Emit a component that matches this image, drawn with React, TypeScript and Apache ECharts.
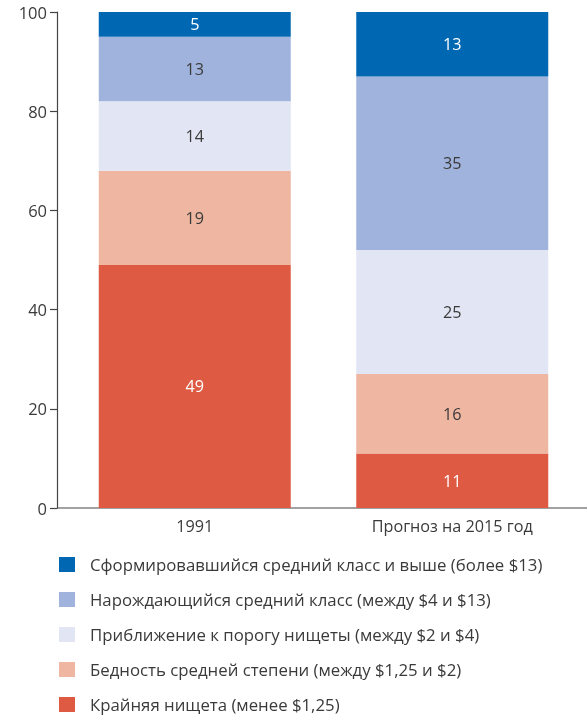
import React, { useEffect, useRef } from "react";
import * as echarts from "echarts";

const categories = ["1991", "Прогноз на 2015 год"];
const seriesNames = [
  "Крайняя нищета (менее $1,25)",
  "Бедность средней степени (между $1,25 и $2)",
  "Приближение к порогу нищеты (между $2 и $4)",
  "Нарождающийся средний класс (между $4 и $13)",
  "Сформировавшийся средний класс и выше (более $13)",
];
const extremePoverty = [49, 11];
const moderatePoverty = [19, 16];
const nearPoverty = [14, 25];
const emergingMiddle = [13, 35];
const establishedMiddle = [5, 13];
const yTicks = { min: 0, max: 100, interval: 20 };

const colors = ["#de5a43", "#efb6a2", "#e2e6f4", "#a0b3dc", "#0068b2"];
const labelColors = ["#ffffff", "#3a3a3a", "#3a3a3a", "#3a3a3a", "#ffffff"];

export default function App() {
  const ref = useRef<HTMLDivElement>(null);
  useEffect(() => {
    if (!ref.current) return;
    const chart = echarts.init(ref.current, undefined, { renderer: "svg" });
    const values = [extremePoverty, moderatePoverty, nearPoverty, emergingMiddle, establishedMiddle];
    const font = "'Open Sans', sans-serif";
    chart.setOption({
      animation: false,
      textStyle: { fontFamily: font },
      grid: { left: 66, right: 6, top: 12, bottom: 210 },
      legend: {
        orient: "vertical",
        left: 59,
        top: 556,
        height: 200,
        padding: 0,
        icon: "rect",
        itemWidth: 16,
        itemHeight: 15,
        itemGap: 18,
        data: [...seriesNames].reverse(),
        textStyle: {
          fontSize: 16.8,
          lineHeight: 16,
          color: "#3a3a3a",
          fontFamily: font,
          padding: [0, 0, 0, 10],
        },
        selectedMode: false,
      },
      xAxis: {
        type: "category",
        data: categories,
        axisLine: { show: false },
        axisTick: { show: false },
        axisLabel: { fontSize: 16.2, color: "#3a3a3a", margin: 10, fontFamily: font },
      },
      yAxis: {
        type: "value",
        min: yTicks.min,
        max: yTicks.max,
        interval: yTicks.interval,
        offset: 9,
        splitLine: { show: false },
        axisLine: { show: true, lineStyle: { color: "#444", width: 1.2 } },
        axisTick: { show: true, length: 7, lineStyle: { color: "#444", width: 1.2 } },
        axisLabel: { fontSize: 16.5, color: "#3a3a3a", margin: 10, fontFamily: font },
      },
      graphic: [
        {
          type: "line",
          shape: { x1: 57, y1: 508, x2: 587, y2: 508 },
          style: { stroke: "#444", lineWidth: 1.2 },
        },
      ],
      series: seriesNames.map((name, i) => ({
        name,
        type: "bar",
        stack: "total",
        barWidth: 192,
        data: values[i],
        itemStyle: { color: colors[i] },
        label: {
          show: true,
          position: "inside",
          color: labelColors[i],
          fontSize: 16.2,
          fontFamily: font,
        },
      })),
    });
    return () => chart.dispose();
  }, []);
  return (
    <div
      ref={ref}
      style={{ position: "fixed", left: 0, top: 0, width: 587, height: 718 }}
    />
  );
}
